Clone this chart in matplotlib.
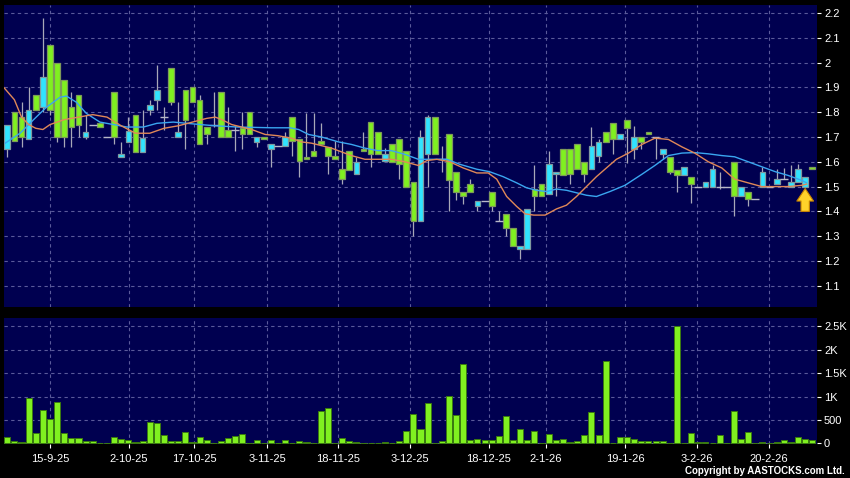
"""Daily candlestick chart with two moving averages and a volume panel."""
import numpy as np
import matplotlib
matplotlib.use("Agg")
import matplotlib.pyplot as plt

plt.rcParams["font.family"] = ["Liberation Sans", "DejaVu Sans"]

# ---- data (index = trading-day slot) ----
opens = [1.65, 1.80, 1.78, 1.69, 1.87, 1.82, 2.07, 2.00, 1.93, 1.82,
         1.87, 1.70, 1.75, 1.755, 1.70, 1.88, 1.62, 1.68, 1.79, 1.64,
         1.81, 1.85, 1.78, 1.98, 1.70, 1.89, 1.90, 1.85, 1.74, 1.75,
         1.88, 1.73, 1.73, 1.737, 1.80, 1.68, 1.70, 1.65, 1.665, 1.665,
         1.78, 1.69, 1.62, 1.645, 1.685, 1.66, 1.625, 1.57, 1.645, 1.55,
         1.65, 1.76, 1.72, 1.605, 1.67, 1.69, 1.645, 1.52, 1.36, 1.63,
         1.78, 1.61, 1.71, 1.56, 1.48, 1.51, 1.42, 1.44, 1.48, 1.36,
         1.39, 1.335, 1.25, 1.25, 1.49, 1.51, 1.47, 1.55, 1.65, 1.65,
         1.67, 1.60, 1.57, 1.625, 1.72, 1.755, 1.69, 1.77, 1.65, 1.70,
         1.72, 1.70, 1.63, 1.62, 1.565, 1.545, 1.54, 1.50, 1.50, 1.50,
         1.50, 1.50, 1.60, 1.46, 1.48, 1.45, 1.50, 1.50, 1.51, 1.53,
         1.50, 1.52, 1.50, 1.58]
closes = [1.75, 1.685, 1.70, 1.81, 1.81, 1.94, 1.81, 1.70, 1.70, 1.74,
          1.75, 1.72, 1.75, 1.74, 1.70, 1.70, 1.63, 1.725, 1.64, 1.695,
          1.83, 1.89, 1.78, 1.84, 1.72, 1.77, 1.84, 1.67, 1.71, 1.75,
          1.70, 1.70, 1.73, 1.71, 1.71, 1.70, 1.69, 1.67, 1.665, 1.70,
          1.685, 1.605, 1.61, 1.625, 1.67, 1.625, 1.61, 1.53, 1.565, 1.60,
          1.645, 1.63, 1.63, 1.63, 1.60, 1.59, 1.50, 1.36, 1.70, 1.78,
          1.63, 1.61, 1.525, 1.48, 1.46, 1.48, 1.44, 1.44, 1.42, 1.36,
          1.335, 1.26, 1.26, 1.41, 1.46, 1.46, 1.59, 1.56, 1.545, 1.55,
          1.57, 1.55, 1.665, 1.68, 1.68, 1.69, 1.71, 1.735, 1.70, 1.68,
          1.71, 1.70, 1.65, 1.56, 1.545, 1.58, 1.51, 1.50, 1.52, 1.57,
          1.50, 1.50, 1.46, 1.50, 1.45, 1.45, 1.56, 1.50, 1.53, 1.53,
          1.52, 1.57, 1.54, 1.57]
highs = [1.75, 1.80, 1.84, 1.90, 1.87, 2.18, 2.07, 2.00, 1.93, 1.88,
         1.87, 1.79, 1.75, 1.755, 1.70, 1.88, 1.68, 1.78, 1.79, 1.81,
         1.85, 1.99, 1.82, 1.98, 1.84, 1.89, 1.90, 1.87, 1.74, 1.88,
         1.88, 1.82, 1.745, 1.80, 1.80, 1.70, 1.70, 1.67, 1.665, 1.72,
         1.78, 1.69, 1.795, 1.795, 1.755, 1.66, 1.685, 1.685, 1.645, 1.62,
         1.72, 1.76, 1.72, 1.655, 1.67, 1.69, 1.645, 1.52, 1.73, 1.79,
         1.78, 1.665, 1.71, 1.56, 1.48, 1.53, 1.44, 1.44, 1.48, 1.40,
         1.39, 1.335, 1.26, 1.41, 1.585, 1.51, 1.645, 1.56, 1.65, 1.65,
         1.67, 1.60, 1.74, 1.69, 1.72, 1.755, 1.71, 1.77, 1.745, 1.70,
         1.72, 1.70, 1.65, 1.62, 1.565, 1.58, 1.54, 1.50, 1.52, 1.585,
         1.56, 1.50, 1.60, 1.50, 1.48, 1.45, 1.58, 1.50, 1.57, 1.575,
         1.585, 1.59, 1.54, 1.58]
lows = [1.62, 1.685, 1.66, 1.69, 1.81, 1.80, 1.79, 1.68, 1.66, 1.66,
        1.70, 1.69, 1.75, 1.74, 1.70, 1.67, 1.62, 1.68, 1.64, 1.64,
        1.79, 1.81, 1.73, 1.83, 1.70, 1.65, 1.84, 1.67, 1.67, 1.74,
        1.70, 1.70, 1.645, 1.65, 1.71, 1.66, 1.69, 1.58, 1.665, 1.665,
        1.625, 1.54, 1.61, 1.625, 1.67, 1.55, 1.61, 1.51, 1.565, 1.55,
        1.645, 1.58, 1.63, 1.605, 1.60, 1.53, 1.50, 1.30, 1.36, 1.50,
        1.63, 1.56, 1.40, 1.445, 1.43, 1.48, 1.40, 1.44, 1.40, 1.36,
        1.30, 1.26, 1.21, 1.25, 1.40, 1.46, 1.47, 1.46, 1.545, 1.51,
        1.57, 1.52, 1.57, 1.60, 1.68, 1.63, 1.69, 1.595, 1.61, 1.65,
        1.71, 1.61, 1.61, 1.55, 1.48, 1.545, 1.435, 1.50, 1.50, 1.50,
        1.49, 1.50, 1.38, 1.46, 1.42, 1.45, 1.50, 1.50, 1.51, 1.53,
        1.50, 1.52, 1.50, 1.57]
volumes = [140, 54, 34, 974, 226, 711, 513, 882, 214, 113,
           113, 50, 50, 8, 16, 130, 90, 70, 20, 50,
           449, 427, 184, 50, 50, 235, 30, 141, 70, 0,
           50, 107, 150, 192, 0, 70, 0, 80, 0, 80,
           0, 40, 25, 10, 690, 750, 0, 120, 50, 20,
           10, 6, 10, 20, 0, 40, 260, 620, 310, 870,
           6, 40, 1010, 600, 1700, 80, 100, 60, 60, 150,
           580, 60, 300, 60, 270, 0, 200, 60, 90, 20,
           40, 180, 660, 170, 1759, 0, 128, 136, 94, 51,
           51, 58, 44, 10, 2513, 10, 214, 21, 21, 5,
           185, 0, 684, 94, 241, 0, 37, 0, 30, 65,
           30, 137, 87, 65]

# moving averages at these slots
ma_fast_x = [-0.5, 1, 2, 3, 4, 5, 6, 8, 10, 12, 14, 16, 18, 20, 22, 24, 26,
             28, 29.2, 30.1, 31.5, 34.3, 36.2, 38, 39.9, 41.3, 42.7, 44.1,
             45.5, 46.9, 48.3, 50.2, 52, 53.9, 55.8, 57.7, 58.9, 60.3, 62.1,
             64, 65.9, 67.5, 68.7, 70.1, 71.5, 72.7, 73.9, 75.5, 77.1, 78.5,
             79.9, 81.3, 82.7, 84.1, 85.5, 87.2, 89.1, 90.9, 92.8, 94.7,
             96.5, 98.4, 100.3, 102.1, 104, 105.9, 107.8, 109.6, 111.5, 112.2]
ma_fast_y = [1.90, 1.85, 1.78, 1.75, 1.735, 1.73, 1.75, 1.77, 1.78, 1.79,
             1.78, 1.745, 1.715, 1.715, 1.735, 1.745, 1.76, 1.775, 1.78,
             1.77, 1.75, 1.73, 1.71, 1.705, 1.695, 1.68, 1.675, 1.665,
             1.655, 1.64, 1.625, 1.61, 1.61, 1.61, 1.60, 1.585, 1.605, 1.61,
             1.60, 1.575, 1.555, 1.555, 1.53, 1.46, 1.42, 1.39, 1.385, 1.385,
             1.41, 1.425, 1.46, 1.50, 1.54, 1.575, 1.61, 1.635, 1.67, 1.695,
             1.69, 1.66, 1.635, 1.60, 1.575, 1.53, 1.515, 1.50, 1.50, 1.50,
             1.505, 1.51]
ma_slow_x = [-0.3, 1.8, 3.7, 5.5, 7.4, 8.3, 9.7, 11.1, 13, 14.9, 16.8, 19.1,
             21, 23.3, 25.2, 27.1, 29.2, 32.4, 37.1, 39.7, 40.9, 42.3, 44.1,
             46.5, 48.3, 50.2, 52, 53.9, 55.8, 57.7, 59.8, 61.7, 63.5, 65.9,
             67.7, 69.6, 71.5, 72.9, 74.3, 75.7, 77.1, 78.5, 79.9, 81.3, 82.7,
             84.6, 86.7, 89.1, 90.9, 92.8, 94.7, 96.5, 98.4, 100.3, 102.1,
             104, 105.9, 107.8, 109.6, 111.5, 112.2]
ma_slow_y = [1.675, 1.715, 1.77, 1.82, 1.86, 1.865, 1.84, 1.795, 1.76, 1.75,
             1.74, 1.74, 1.755, 1.76, 1.755, 1.75, 1.745, 1.74, 1.737, 1.737,
             1.73, 1.71, 1.70, 1.68, 1.67, 1.655, 1.645, 1.645, 1.63, 1.61,
             1.61, 1.61, 1.59, 1.57, 1.56, 1.54, 1.515, 1.495, 1.485, 1.48,
             1.49, 1.485, 1.475, 1.465, 1.46, 1.48, 1.505, 1.55, 1.585,
             1.625, 1.635, 1.637, 1.632, 1.625, 1.62, 1.60, 1.58, 1.56,
             1.545, 1.525, 1.515]

date_pos = [6.0, 17.1, 26.2, 36.5, 46.4, 56.5, 67.6, 75.6, 86.7, 96.8, 106.9]
date_labels = ["15-9-25", "2-10-25", "17-10-25", "3-11-25", "18-11-25",
               "3-12-25", "18-12-25", "2-1-26", "19-1-26", "3-2-26", "20-2-26"]
price_ticks = [1.1, 1.2, 1.3, 1.4, 1.5, 1.6, 1.7, 1.8, 1.9, 2.0, 2.1, 2.2]
price_labels = ["1.1", "1.2", "1.3", "1.4", "1.5", "1.6", "1.7", "1.8",
                "1.9", "2", "2.1", "2.2"]
vol_ticks = [0, 500, 1000, 1500, 2000, 2500]
vol_labels = ["0", "500", "1K", "1.5K", "2K", "2.5K"]

# ---- styling ----
BG = "#000050"
UP = "#30E4FF"
DOWN = "#80F020"
GRID = "#5a5a9a"

o = np.array(opens); c = np.array(closes)
h = np.array(highs); l = np.array(lows)
x = np.arange(len(o))
up = c >= o
doji = np.isclose(o, c)

fig = plt.figure(figsize=(8.5, 4.78), dpi=100, facecolor="black")
ax = fig.add_axes([4 / 850, 1 - 307 / 478, 813 / 850, 302 / 478], facecolor=BG)
axv = fig.add_axes([4 / 850, 1 - 444 / 478, 813 / 850, 126 / 478], facecolor=BG)

# candles
ax.vlines(x, l, h, color="#a8a8b8", lw=0.9, zorder=2)
w = 0.8
body = ~doji
ax.bar(x[body & up], (c - o)[body & up], w, bottom=o[body & up],
       color=UP, edgecolor="#7f9aa0", lw=0.9, zorder=3)
ax.bar(x[body & ~up], (o - c)[body & ~up], w, bottom=c[body & ~up],
       color=DOWN, edgecolor="#7e9a5a", lw=0.9, zorder=3)
ax.hlines(c[doji], x[doji] - w / 2 - 0.15, x[doji] + w / 2 + 0.15,
          color="#b8b8c8", lw=1.0, zorder=3)

# moving averages
ax.plot(ma_slow_x, ma_slow_y, color="#3aa6f0", lw=1.0, zorder=4)
ax.plot(ma_fast_x, ma_fast_y, color="#e08858", lw=1.0, zorder=4)

# marker arrow under the latest candle
ax.annotate("", xy=(x[-2], 1.492), xytext=(x[-2], 1.400),
            arrowprops=dict(arrowstyle="simple,head_length=0.6,head_width=0.8,tail_width=0.4",
                            fc="#ffd22a", ec="#c88400", lw=0.8, mutation_scale=15,
                            shrinkA=0, shrinkB=0),
            zorder=5)

ax.set_xlim(-0.46, 113.66)
ax.set_ylim(1.0145, 2.232)
ax.set_yticks(price_ticks)
ax.set_yticklabels(price_labels)
ax.set_xticks(date_pos)
ax.tick_params(axis="x", length=0, labelbottom=False)

# volume
axv.bar(x, volumes, 0.85, color=DOWN, edgecolor="#3a7a10", lw=0.7, zorder=3)
axv.set_xlim(-0.46, 113.66)
axv.set_ylim(-15, 2680)
axv.set_yticks(vol_ticks)
axv.set_yticklabels(vol_labels)
axv.set_xticks(date_pos)
axv.set_xticklabels(date_labels)

for a in (ax, axv):
    a.yaxis.tick_right()
    a.tick_params(axis="y", colors="white", labelsize=8, length=3, width=0.8, pad=2)
    a.grid(True, color=GRID, ls=(0, (3, 3)), lw=0.8)
    a.set_axisbelow(True)
    for s in a.spines.values():
        s.set_visible(False)
axv.tick_params(axis="x", colors="white", labelsize=8, length=3, width=0.8, pad=4)

fig.text(845 / 850, 1 - 471 / 478, "Copyright by AASTOCKS.com Ltd.", color="white",
         fontsize=7, fontweight="bold", ha="right", va="center")

fig.savefig("out.png", dpi=100, facecolor="black")
